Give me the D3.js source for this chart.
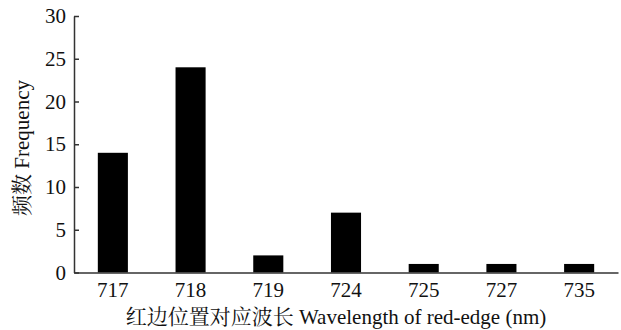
<!DOCTYPE html>
<html>
<head>
<meta charset="utf-8">
<script src="https://cdn.jsdelivr.net/npm/d3@7"></script>
<style>
  html, body { margin: 0; padding: 0; background: #fff; }
  svg { display: block; }
  text { font-family: "Liberation Serif", "Times New Roman", "Noto Serif CJK SC", "Noto Sans CJK SC", serif; fill: #111; }
</style>
</head>
<body>
<svg id="chart" width="621" height="330"></svg>
<script>
// Red-edge wavelength categories (nm) and their frequencies
const wavelengths = ["717", "718", "719", "724", "725", "727", "735"];
const frequencies = [14, 24, 2, 7, 1, 1, 1];
const yTicks = [0, 5, 10, 15, 20, 25, 30];

const xTitle = "红边位置对应波长 Wavelength of red-edge (nm)";
const yTitle = "频数 Frequency";

const svg = d3.select("#chart");
const plotLeft = 74, plotRight = 618, plotTop = 16, plotBottom = 272.5;

const x = d3.scaleBand()
  .domain(wavelengths)
  .range([plotLeft, plotRight])
  .paddingInner(0.613)
  .paddingOuter(0.3065);

const y = d3.scaleLinear()
  .domain([0, 30])
  .range([plotBottom, plotTop]);

// Bars
svg.append("g")
  .selectAll("rect")
  .data(wavelengths.map((w, i) => ({ w, v: frequencies[i] })))
  .join("rect")
  .attr("x", d => x(d.w))
  .attr("y", d => y(d.v))
  .attr("width", x.bandwidth())
  .attr("height", d => y(0) - y(d.v))
  .attr("fill", "#000");

// Y axis with inward ticks
const yAxis = svg.append("g")
  .attr("transform", `translate(${plotLeft},0)`)
  .call(d3.axisLeft(y).tickValues(yTicks).tickSizeInner(-5).tickSizeOuter(0).tickPadding(8));
yAxis.select(".domain").attr("stroke", "#333").attr("stroke-width", 1.5);
yAxis.selectAll(".tick line").attr("stroke", "#333").attr("stroke-width", 1.5);
yAxis.selectAll(".tick text").attr("font-size", 21).attr("font-family", null).attr("fill", "#111");

// X axis: baseline with category labels, no tick marks
const xAxis = svg.append("g")
  .attr("transform", `translate(0,${plotBottom})`)
  .call(d3.axisBottom(x).tickSize(0).tickPadding(10));
xAxis.select(".domain").attr("stroke", "#333").attr("stroke-width", 1.5);
xAxis.selectAll(".tick text").attr("font-size", 21).attr("font-family", null).attr("fill", "#111");

// Axis titles
svg.append("text")
  .attr("x", 336)
  .attr("y", 324)
  .attr("text-anchor", "middle")
  .attr("font-size", 21)
  .text(xTitle);

svg.append("text")
  .attr("transform", "translate(29,148) rotate(-90)")
  .attr("text-anchor", "middle")
  .attr("font-size", 21)
  .text(yTitle);
</script>
</body>
</html>
